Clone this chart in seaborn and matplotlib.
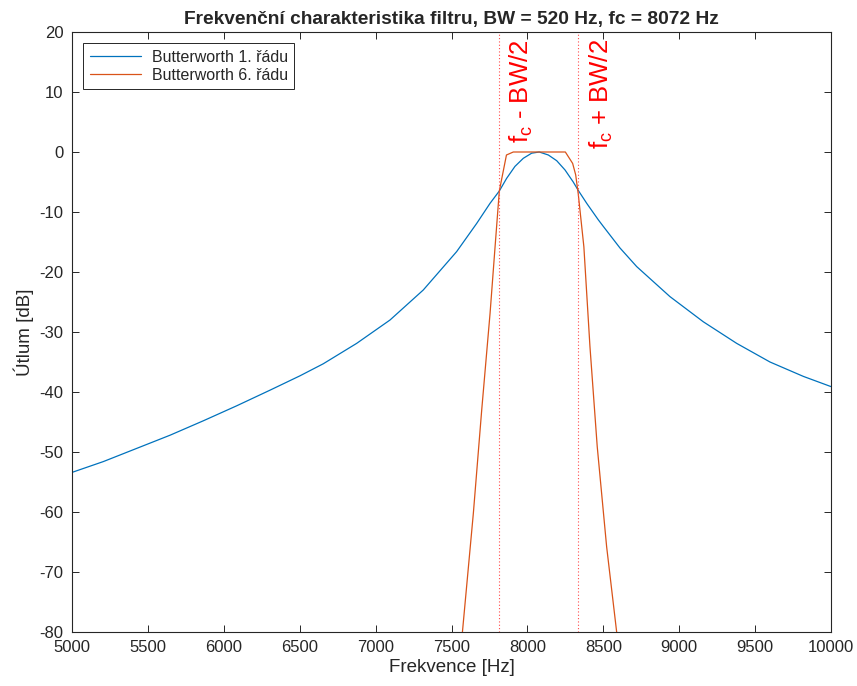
import matplotlib
matplotlib.use("Agg")
import matplotlib.pyplot as plt
import seaborn as sns
import pandas as pd

# ---- data ----
blue_f = [5000, 5206, 5426, 5646, 5865, 6085, 6304, 6502, 6655, 6875, 7095, 7314,
          7534, 7666, 7754, 7815, 7863, 7918, 7973, 8028, 8078, 8138, 8193, 8248,
          8302, 8335, 8392, 8467, 8500, 8610, 8720, 8939, 9159, 9379, 9598, 9818, 10000]
blue_db = [-53.4, -51.6, -49.4, -47.2, -44.8, -42.3, -39.7, -37.3, -35.3, -31.9, -28.0, -23.0,
           -16.6, -11.9, -8.55, -6.5, -4.4, -2.4, -1.05, -0.2, 0.0, -0.5, -1.45, -3.0,
           -5.0, -6.4, -8.6, -11.3, -12.4, -16.0, -19.1, -24.1, -28.3, -31.9, -35.0, -37.4, -39.1]

orange_f = [7572, 7644, 7699, 7754, 7787, 7815, 7862, 7907, 8250, 8298, 8318, 8335,
            8372, 8412, 8460, 8522, 8588]
orange_db = [-80.0, -60.2, -43.0, -26.9, -15.8, -6.5, -0.5, 0.0, 0.0, -1.9, -3.8, -7.0,
             -15.8, -32.4, -49.1, -65.8, -80.0]

edges = [7812, 8332]
edge_labels = ["f$_c$ - BW/2", "f$_c$ + BW/2"]
series_names = ["Butterworth 1. řádu", "Butterworth 6. řádu"]
x_ticks = list(range(5000, 10001, 500))
y_ticks = list(range(-80, 21, 10))
title = "Frekvenční charakteristika filtru, BW = 520 Hz, fc = 8072 Hz"

df = pd.concat([
    pd.DataFrame({"f": blue_f, "dB": blue_db, "s": series_names[0]}),
    pd.DataFrame({"f": orange_f, "dB": orange_db, "s": series_names[1]}),
])

sns.set_theme(style="white")
plt.rcParams["font.family"] = ["Liberation Sans", "DejaVu Sans"]
plt.rcParams["mathtext.default"] = "regular"
plt.rcParams["axes.unicode_minus"] = False

W, H = 857, 686
fig = plt.figure(figsize=(W / 100, H / 100), dpi=100)
ax = fig.add_axes([72 / W, 1 - 632 / H, (831 - 72) / W, (632 - 32) / H])

sns.lineplot(data=df, x="f", y="dB", hue="s", sort=False, estimator=None,
             palette=["#0072BD", "#D95319"], linewidth=0.9, ax=ax)

for e in edges:
    ax.axvline(e, color="#FF4A4A", linestyle=(0, (1, 2)), linewidth=0.8)

# text placed with its ascender side at x, string start at y
ax.text(7872, 1.5, edge_labels[0], rotation=90, color="red", fontsize=18.5,
        ha="left", va="top", rotation_mode="anchor")
ax.text(8399, 0.5, edge_labels[1], rotation=90, color="red", fontsize=18.5,
        ha="left", va="top", rotation_mode="anchor")

ax.set_xlim(5000, 10000)
ax.set_ylim(-80, 20)
ax.set_xticks(x_ticks)
ax.set_yticks(y_ticks)
ax.tick_params(direction="in", length=5, width=0.7, colors="#262626",
               labelsize=12, top=True, right=True, bottom=True, left=True, pad=6)
for sp in ax.spines.values():
    sp.set_color("#262626")
    sp.set_linewidth(0.8)

ax.set_xlabel("Frekvence [Hz]", fontsize=13.5, color="#262626", labelpad=3)
ax.set_ylabel("Útlum [dB]", fontsize=13.5, color="#262626", labelpad=4)
ax.set_title(title, fontsize=13.8, fontweight="bold", pad=6)

leg = ax.legend(loc="upper left", fontsize=11.5, frameon=True, fancybox=False,
                edgecolor="#262626", framealpha=1, handlelength=3.2,
                handletextpad=0.7, borderpad=0.4, labelspacing=0.2,
                borderaxespad=0.7)
leg.get_frame().set_linewidth(0.7)
leg.set_title(None)

fig.savefig("out.png", dpi=100)
